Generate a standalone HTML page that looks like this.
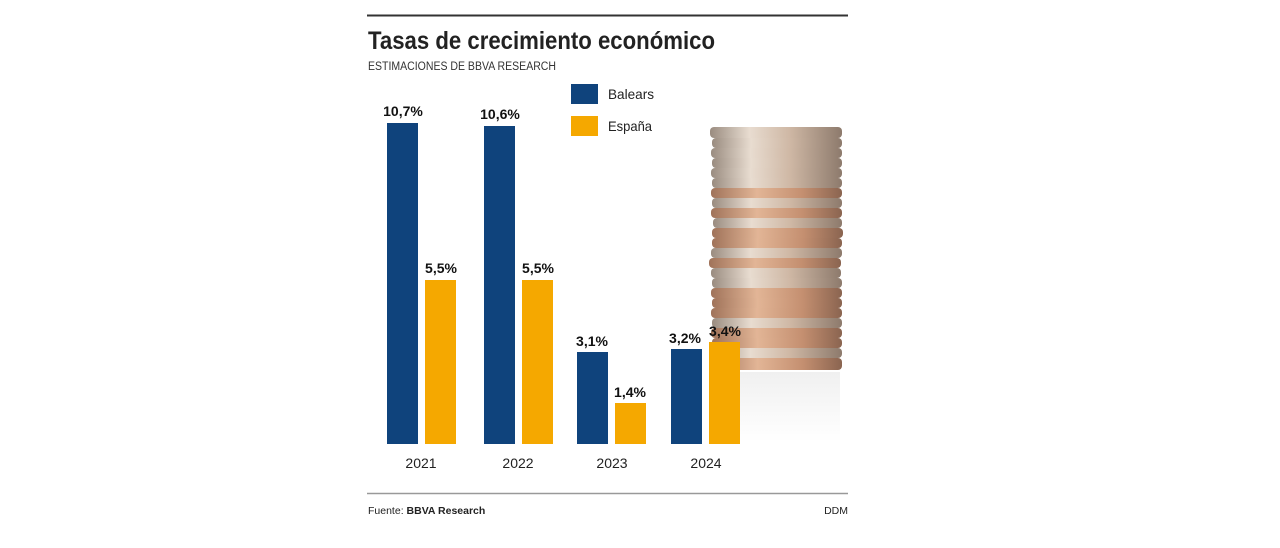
<!DOCTYPE html>
<html><head><meta charset="utf-8"><style>
html,body{margin:0;padding:0;background:#fff;width:1280px;height:548px;overflow:hidden}
</style></head><body>
<svg width="1280" height="548" xmlns="http://www.w3.org/2000/svg" font-family="'Liberation Sans',sans-serif">
<defs>
<linearGradient id="cg" x1="0" x2="1" y1="0" y2="0">
<stop offset="0" stop-color="#9a8c80"/><stop offset="0.3" stop-color="#e8dcd0"/><stop offset="0.6" stop-color="#cfb8a5"/><stop offset="1" stop-color="#8d7a6c"/>
</linearGradient>
<linearGradient id="cc" x1="0" x2="1" y1="0" y2="0">
<stop offset="0" stop-color="#a0735a"/><stop offset="0.35" stop-color="#e2b596"/><stop offset="0.7" stop-color="#c48f70"/><stop offset="1" stop-color="#8a6450"/>
</linearGradient>
<linearGradient id="refl" x1="0" x2="0" y1="0" y2="1">
<stop offset="0" stop-color="#f0f0f0"/><stop offset="1" stop-color="#ffffff"/>
</linearGradient>
</defs>
<line x1="367" y1="15.5" x2="848" y2="15.5" stroke="#333" stroke-width="2"/>
<text x="368" y="49" font-size="25" font-weight="bold" fill="#222" textLength="347" lengthAdjust="spacingAndGlyphs">Tasas de crecimiento económico</text>
<text x="368" y="70" font-size="11.5" fill="#333" textLength="188" lengthAdjust="spacingAndGlyphs">ESTIMACIONES DE BBVA RESEARCH</text>
<rect x="571" y="84" width="27" height="20" fill="#0f437c"/>
<text x="608" y="99" font-size="14" fill="#222" textLength="46" lengthAdjust="spacingAndGlyphs">Balears</text>
<rect x="571" y="116" width="27" height="20" fill="#f5a800"/>
<text x="608" y="131" font-size="14" fill="#222" textLength="44" lengthAdjust="spacingAndGlyphs">España</text>
<rect x="715" y="372" width="125" height="70" fill="url(#refl)"/>
<g>
<rect x="710" y="127" width="132" height="11" rx="4" fill="url(#cg)"/>
<rect x="712" y="138" width="130" height="10" rx="4" fill="url(#cg)"/>
<rect x="711" y="148" width="131" height="10" rx="4" fill="url(#cg)"/>
<rect x="712" y="158" width="130" height="10" rx="4" fill="url(#cg)"/>
<rect x="711" y="168" width="131" height="10" rx="4" fill="url(#cg)"/>
<rect x="712" y="178" width="130" height="10" rx="4" fill="url(#cg)"/>
<rect x="711" y="188" width="131" height="10" rx="4" fill="url(#cc)"/>
<rect x="712" y="198" width="130" height="10" rx="4" fill="url(#cg)"/>
<rect x="711" y="208" width="131" height="10" rx="4" fill="url(#cc)"/>
<rect x="713" y="218" width="129" height="10" rx="4" fill="url(#cg)"/>
<rect x="712" y="228" width="131" height="10" rx="4" fill="url(#cc)"/>
<rect x="712" y="238" width="130" height="10" rx="4" fill="url(#cc)"/>
<rect x="711" y="248" width="131" height="10" rx="4" fill="url(#cg)"/>
<rect x="709" y="258" width="132" height="10" rx="4" fill="url(#cc)"/>
<rect x="711" y="268" width="130" height="10" rx="4" fill="url(#cg)"/>
<rect x="712" y="278" width="130" height="10" rx="4" fill="url(#cg)"/>
<rect x="711" y="288" width="131" height="10" rx="4" fill="url(#cc)"/>
<rect x="712" y="298" width="130" height="10" rx="4" fill="url(#cc)"/>
<rect x="711" y="308" width="131" height="10" rx="4" fill="url(#cc)"/>
<rect x="712" y="318" width="130" height="10" rx="4" fill="url(#cg)"/>
<rect x="711" y="328" width="131" height="10" rx="4" fill="url(#cc)"/>
<rect x="712" y="338" width="130" height="10" rx="4" fill="url(#cc)"/>
<rect x="711" y="348" width="131" height="10" rx="4" fill="url(#cg)"/>
<rect x="712" y="358" width="130" height="12" rx="4" fill="url(#cc)"/>
</g>
<rect x="387" y="123" width="31" height="321" fill="#0f437c"/>
<rect x="425" y="280" width="31" height="164" fill="#f5a800"/>
<rect x="484" y="126" width="31" height="318" fill="#0f437c"/>
<rect x="522" y="280" width="31" height="164" fill="#f5a800"/>
<rect x="577" y="352" width="31" height="92" fill="#0f437c"/>
<rect x="615" y="403" width="31" height="41" fill="#f5a800"/>
<rect x="671" y="349" width="31" height="95" fill="#0f437c"/>
<rect x="709" y="342" width="31" height="102" fill="#f5a800"/>
<g font-size="14" font-weight="bold" fill="#111" text-anchor="middle">
<text x="403" y="116">10,7%</text>
<text x="441" y="273">5,5%</text>
<text x="500" y="119">10,6%</text>
<text x="538" y="273">5,5%</text>
<text x="592" y="346">3,1%</text>
<text x="630" y="397">1,4%</text>
<text x="685" y="343">3,2%</text>
<text x="725" y="336">3,4%</text>
</g>
<g font-size="14" fill="#222" text-anchor="middle">
<text x="421" y="468">2021</text>
<text x="518" y="468">2022</text>
<text x="612" y="468">2023</text>
<text x="706" y="468">2024</text>
</g>
<line x1="367" y1="493.5" x2="848" y2="493.5" stroke="#999" stroke-width="1.5"/>
<text x="368" y="514" font-size="10.5" fill="#222">Fuente: <tspan font-weight="bold">BBVA Research</tspan></text>
<text x="848" y="514" font-size="10.5" fill="#222" text-anchor="end">DDM</text>
</svg>
</body></html>
